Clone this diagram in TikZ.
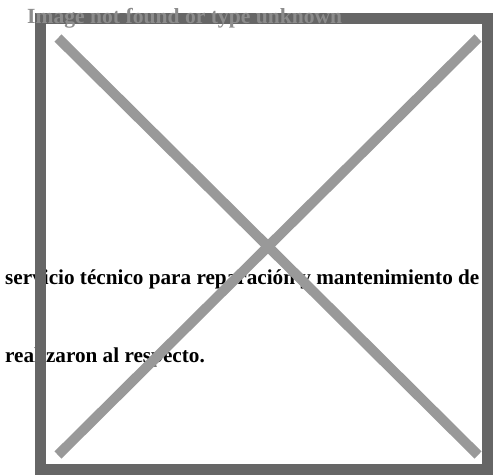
\documentclass[tikz,border=0pt]{standalone}
\usepackage{fontspec}
\setmainfont{Liberation Serif}
\usetikzlibrary{positioning}

\definecolor{framegray}{HTML}{666666}
\definecolor{crossgray}{HTML}{999999}
\definecolor{alttext}{HTML}{8C8C8C}

\begin{document}
\begin{tikzpicture}[x=1pt,y=-1pt]
    \tikzstyle{body text}  = [inner sep=0pt,anchor=base west,font=\fontsize{21.2}{26}\selectfont\bfseries,black]
    \tikzstyle{alt text}   = [inner sep=0pt,anchor=base west,font=\fontsize{21.6}{26}\selectfont\bfseries,alttext]
    \tikzstyle{frame line} = [draw=framegray,line width=11pt]
    \tikzstyle{cross line} = [draw=crossgray,line width=10pt]

    \useasboundingbox (0,0) rectangle (493,475);

    % text of the page behind the missing picture
    \node[body text] (line1) at (5,284)   {servicio técnico para reparación y mantenimiento de};
    \node[body text] (line2) at (5,362)   {realizaron al respecto.};

    % broken picture placeholder
    \coordinate (tl) at (40.5,18.5);
    \coordinate (br) at (487.5,469.5);
    \draw[frame line] (tl) rectangle (br);

    \coordinate (c1) at (58,38);
    \coordinate (c2) at (478,38);
    \coordinate (c3) at (58,455);
    \coordinate (c4) at (478,455);
    \draw[cross line] (c1)--(c4);
    \draw[cross line] (c2)--(c3);

    \node[alt text] (alt) at (27,23) {Image not found or type unknown};
\end{tikzpicture}
\end{document}
